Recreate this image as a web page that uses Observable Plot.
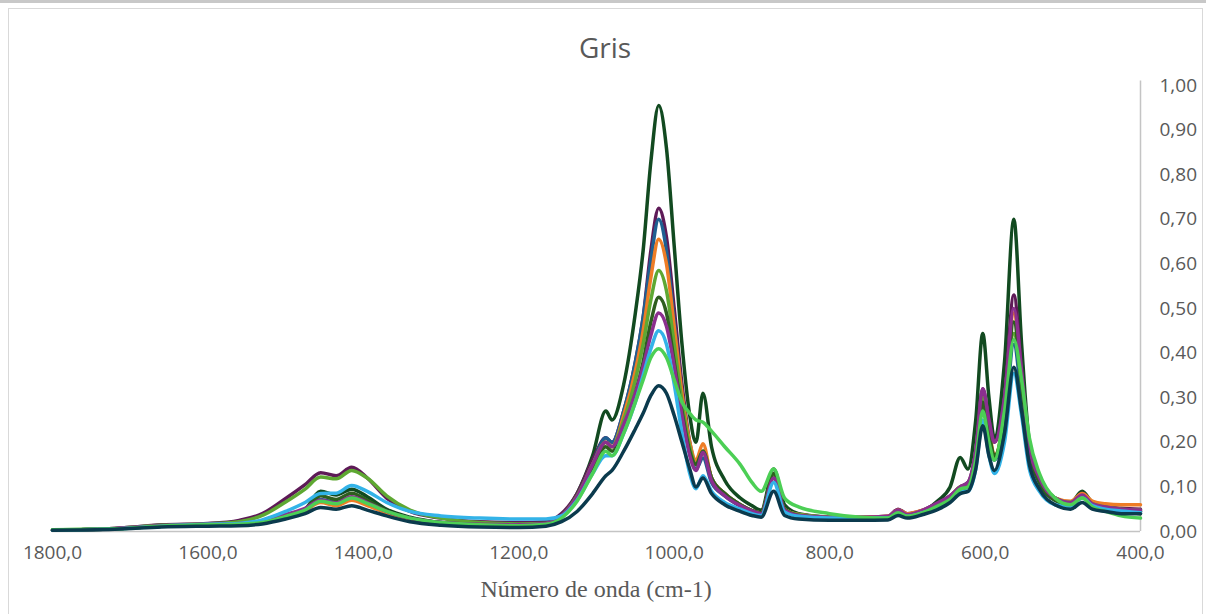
<!DOCTYPE html>
<html><head><meta charset="utf-8">
<script src="https://cdn.jsdelivr.net/npm/d3@7"></script>
<script src="https://cdn.jsdelivr.net/npm/@observablehq/plot@0.6"></script>
<style>
html,body{margin:0;padding:0;background:#fff;width:1206px;height:614px;overflow:hidden;}
#topbar{position:absolute;left:0;top:0;width:1206px;height:3px;background:#c8c8c8;}
#frame{position:absolute;left:8px;top:8px;width:1195px;height:620px;border:1px solid #d9d9d9;box-sizing:border-box;}
#title{position:absolute;left:0;width:1210px;top:28px;text-align:center;font:28px "Open Sans", sans-serif;color:#595959;}
#xlabel{position:absolute;left:0;width:1192px;top:576px;text-align:center;font:24px "Liberation Serif", serif;color:#595959;}
#chart{position:absolute;left:0;top:0;}
</style>
</head>
<body>
<div id="topbar"></div>
<div id="frame"></div>
<div id="chart"></div>
<div id="title">Gris</div>
<div id="xlabel">Número de onda (cm-1)</div>
<script>
const titleText = "Gris";
const xLabelText = "Número de onda (cm-1)";
const xTicks = [1800, 1600, 1400, 1200, 1000, 800, 600, 400];
const yTicks = [0, 0.1, 0.2, 0.3, 0.4, 0.5, 0.6, 0.7, 0.8, 0.9, 1.0];

const wavenumber = [1800,1720,1660,1600,1560,1530,1500,1475,1455,1435,1415,1395,1370,1340,1300,1250,1200,1165,
  1145,1125,1105,1088,1080,1065,1050,1040,1030,1020,1010,1000,990,980,972,963,952,935,915,900,888,872,
  858,840,800,760,725,712,700,680,660,645,632,622,612,603,595,588,575,563,553,543,530,510,490,475,462,445,425,400];

const seriesNames = ["Serie 1","Serie 2","Serie 3","Serie 4","Serie 5","Serie 6","Serie 7","Serie 8","Serie 9","Serie 10"];
const seriesColors = ["#124a20","#5e1a57","#1f5f91","#ee7d26","#5ea832","#2e5e1f","#8b2f8e","#33b3e8","#4ccf55","#0b3a4d"];

const serie1 = [0.003,0.006,0.012,0.015,0.016,0.02,0.033,0.05,0.09,0.082,0.095,0.078,0.05,0.032,0.02,0.015,0.013,0.018,
  0.035,0.085,0.17,0.27,0.25,0.33,0.49,0.63,0.83,0.955,0.86,0.64,0.42,0.26,0.2,0.31,0.19,0.115,0.075,0.058,0.048,0.14,
  0.06,0.04,0.032,0.03,0.03,0.045,0.035,0.045,0.07,0.1,0.166,0.14,0.25,0.444,0.3,0.21,0.38,0.70,0.42,0.2,0.12,0.075,0.065,0.09,0.065,0.055,0.05,0.045];
const serie2 = [0.003,0.007,0.015,0.018,0.025,0.04,0.074,0.105,0.132,0.125,0.144,0.12,0.075,0.045,0.03,0.022,0.02,0.022,
  0.04,0.085,0.16,0.21,0.2,0.27,0.38,0.48,0.63,0.725,0.66,0.5,0.33,0.2,0.15,0.18,0.12,0.085,0.06,0.047,0.042,0.125,
  0.05,0.038,0.032,0.032,0.034,0.05,0.04,0.048,0.065,0.08,0.1,0.11,0.18,0.32,0.25,0.2,0.3,0.53,0.36,0.19,0.12,0.075,0.065,0.085,0.065,0.055,0.052,0.05];
const serie3 = [0.003,0.006,0.012,0.015,0.016,0.02,0.035,0.05,0.072,0.065,0.076,0.065,0.045,0.03,0.02,0.015,0.013,0.016,
  0.032,0.075,0.15,0.21,0.2,0.27,0.38,0.48,0.61,0.70,0.63,0.47,0.31,0.19,0.14,0.165,0.11,0.08,0.057,0.045,0.04,0.12,
  0.048,0.036,0.03,0.03,0.03,0.045,0.036,0.045,0.06,0.075,0.095,0.1,0.16,0.28,0.21,0.16,0.24,0.42,0.3,0.17,0.11,0.07,0.06,0.08,0.06,0.052,0.048,0.045];
const serie4 = [0.003,0.006,0.012,0.015,0.016,0.02,0.033,0.047,0.065,0.058,0.07,0.058,0.042,0.028,0.019,0.015,0.013,0.016,
  0.032,0.075,0.15,0.2,0.19,0.26,0.36,0.45,0.57,0.655,0.6,0.46,0.31,0.2,0.16,0.197,0.12,0.085,0.06,0.047,0.042,0.12,
  0.05,0.038,0.032,0.032,0.034,0.048,0.04,0.048,0.062,0.078,0.1,0.105,0.17,0.3,0.23,0.17,0.27,0.49,0.34,0.18,0.115,0.075,0.068,0.085,0.068,0.062,0.06,0.06];
const serie5 = [0.004,0.007,0.014,0.017,0.022,0.036,0.066,0.095,0.122,0.118,0.137,0.12,0.08,0.048,0.03,0.02,0.017,0.018,
  0.035,0.08,0.15,0.2,0.19,0.25,0.34,0.42,0.52,0.585,0.54,0.42,0.29,0.19,0.15,0.18,0.12,0.085,0.06,0.047,0.042,0.125,
  0.05,0.038,0.032,0.03,0.032,0.045,0.036,0.045,0.06,0.075,0.1,0.1,0.17,0.3,0.22,0.165,0.26,0.444,0.33,0.19,0.12,0.075,0.065,0.08,0.062,0.055,0.05,0.048];
const serie6 = [0.003,0.006,0.012,0.015,0.016,0.02,0.034,0.05,0.08,0.072,0.086,0.07,0.046,0.03,0.02,0.015,0.013,0.016,
  0.032,0.072,0.14,0.19,0.18,0.23,0.31,0.38,0.47,0.525,0.49,0.38,0.27,0.18,0.15,0.18,0.12,0.085,0.06,0.047,0.042,0.13,
  0.05,0.036,0.03,0.028,0.03,0.044,0.034,0.044,0.058,0.072,0.095,0.1,0.16,0.29,0.22,0.17,0.26,0.47,0.33,0.18,0.11,0.07,0.06,0.08,0.06,0.05,0.045,0.04];
const serie7 = [0.003,0.007,0.013,0.016,0.018,0.024,0.038,0.052,0.07,0.064,0.078,0.065,0.045,0.03,0.02,0.016,0.015,0.018,
  0.035,0.078,0.15,0.2,0.19,0.24,0.31,0.37,0.44,0.49,0.46,0.37,0.26,0.17,0.137,0.177,0.114,0.08,0.058,0.046,0.04,0.12,
  0.048,0.036,0.032,0.032,0.034,0.048,0.038,0.048,0.065,0.08,0.1,0.11,0.18,0.32,0.25,0.2,0.3,0.5,0.36,0.19,0.12,0.075,0.065,0.082,0.062,0.055,0.05,0.048];
const serie8 = [0.003,0.006,0.012,0.016,0.018,0.026,0.045,0.065,0.085,0.086,0.103,0.09,0.065,0.045,0.035,0.03,0.028,0.028,
  0.035,0.07,0.13,0.17,0.17,0.22,0.29,0.35,0.41,0.45,0.42,0.33,0.22,0.13,0.096,0.125,0.09,0.065,0.05,0.04,0.036,0.11,
  0.044,0.034,0.03,0.03,0.03,0.04,0.034,0.042,0.055,0.07,0.09,0.09,0.14,0.25,0.17,0.13,0.2,0.354,0.26,0.14,0.09,0.06,0.055,0.075,0.058,0.05,0.046,0.042];
const serie9 = [0.004,0.006,0.012,0.015,0.016,0.02,0.034,0.048,0.068,0.062,0.075,0.063,0.045,0.03,0.02,0.015,0.013,0.016,
  0.03,0.068,0.13,0.18,0.17,0.22,0.29,0.34,0.39,0.41,0.39,0.34,0.29,0.265,0.25,0.245,0.225,0.19,0.15,0.11,0.09,0.14,
  0.075,0.055,0.04,0.032,0.03,0.042,0.034,0.042,0.058,0.072,0.095,0.1,0.16,0.27,0.2,0.16,0.27,0.43,0.34,0.21,0.13,0.075,0.06,0.075,0.055,0.045,0.035,0.03];
const serie10 = [0.003,0.005,0.01,0.012,0.013,0.017,0.028,0.04,0.054,0.05,0.058,0.048,0.035,0.022,0.014,0.01,0.009,0.012,
  0.022,0.045,0.085,0.125,0.137,0.18,0.23,0.265,0.305,0.327,0.31,0.26,0.2,0.14,0.1,0.12,0.085,0.06,0.045,0.036,0.032,0.09,
  0.036,0.028,0.025,0.025,0.026,0.036,0.03,0.038,0.05,0.065,0.085,0.09,0.14,0.237,0.17,0.137,0.22,0.368,0.27,0.15,0.095,0.06,0.05,0.065,0.05,0.045,0.04,0.04];

const seriesValues = [serie1, serie2, serie3, serie4, serie5, serie6, serie7, serie8, serie9, serie10];

const rows = [];
seriesValues.forEach((vals, i) => {
  vals.forEach((v, j) => rows.push({serie: seriesNames[i], w: wavenumber[j], a: v}));
});

const fmt1 = d => d.toFixed(1).replace(".", ",");
const fmt2 = d => d.toFixed(2).replace(".", ",");

const chart = Plot.plot({
  width: 1206,
  height: 614,
  marginLeft: 52,
  marginRight: 66,
  marginTop: 85,
  marginBottom: 83,
  style: {fontFamily: "'Open Sans', sans-serif", fontSize: "19px", color: "#595959", background: "transparent", overflow: "visible"},
  x: {domain: [1800, 400], ticks: xTicks, tickFormat: fmt1, tickSize: 0, tickPadding: 14, label: null},
  y: {domain: [0, 1], ticks: yTicks, tickFormat: fmt2, tickSize: 0, tickPadding: 19, label: null, axis: "right"},
  color: {domain: seriesNames, range: seriesColors},
  marks: [
    Plot.ruleY([0], {stroke: "#c4c4c4", strokeWidth: 1.5}),
    Plot.ruleX([400], {y1: 0, y2: 1.01, stroke: "#c4c4c4", strokeWidth: 1.5}),
    Plot.line(rows, {x: "w", y: "a", z: "serie", stroke: "serie", strokeWidth: 3.5, curve: "monotone-x", strokeLinejoin: "round"})
  ]
});
document.getElementById("chart").appendChild(chart);
document.getElementById("title").textContent = titleText;
document.getElementById("xlabel").textContent = xLabelText;
</script>
</body></html>
